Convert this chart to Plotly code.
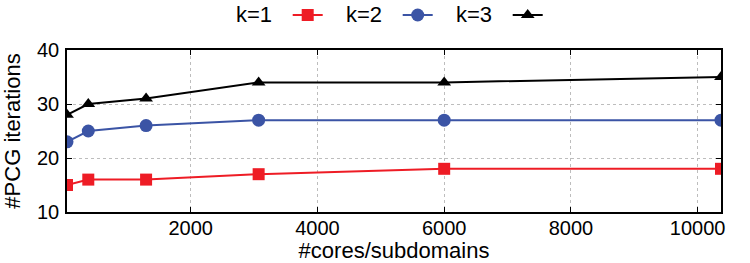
import plotly.graph_objects as go

cores = [48, 384, 1296, 3072, 6000, 10368]
k1 = [15, 16, 16, 17, 18, 18]
k2 = [23, 25, 26, 27, 27, 27]
k3 = [28, 30, 31, 34, 34, 35]
series_names = ["k=1", "k=2", "k=3"]
x_ticks = [2000, 4000, 6000, 8000, 10000]
y_ticks = [10, 20, 30, 40]

colors = ["#ee1c25", "#3b54a5", "#000000"]
symbols = ["square", "circle", "triangle-up"]
sizes = [12, 13, 12]

L, R, T, B = 67, 29, 50, 51
W, H = 750, 263
pw = W - L - R

FONT = "Liberation Sans, Arial, sans-serif"

fig = go.Figure()
for name, ys, c, s, sz in zip(series_names, [k1, k2, k3], colors, symbols, sizes):
    fig.add_trace(go.Scatter(
        x=cores, y=ys, name=name, mode="lines+markers",
        line=dict(color=c, width=2),
        marker=dict(color=c, symbol=s, size=sz, line=dict(width=0)),
    ))

entry_step = 110
leg_left_px = 287.7
leg_x = (leg_left_px - L) / pw
leg_y = (H - B - 15) / (H - T - B)

annotations = []
for i, name in enumerate(series_names):
    marker_px = leg_left_px + 20 + i * entry_step
    annotations.append(dict(
        x=(marker_px - 34 - L) / pw, y=leg_y, xref="paper", yref="paper",
        text=name, showarrow=False, xanchor="right", yanchor="middle",
        font=dict(size=22, color="black", family=FONT),
    ))

axis_common = dict(
    showline=True, linecolor="black", linewidth=1.5, mirror="ticks",
    ticks="inside", ticklen=5, tickwidth=1, tickcolor="black",
    showgrid=True, gridcolor="#bdbdbd", gridwidth=1, griddash="dot",
    zeroline=False, tickformat="d",
    tickfont=dict(size=20, color="black", family=FONT),
)

fig.update_layout(
    width=W, height=H,
    margin=dict(l=L, r=R, t=T, b=B, autoexpand=False),
    paper_bgcolor="white", plot_bgcolor="white",
    showlegend=True,
    legend=dict(
        orientation="h", x=leg_x, y=leg_y, xanchor="left", yanchor="middle",
        entrywidth=entry_step - 45, entrywidthmode="pixels",
        font=dict(size=1, color="rgba(0,0,0,0)"),
        bgcolor="rgba(0,0,0,0)", borderwidth=0, itemwidth=30,
    ),
    annotations=annotations,
    xaxis=dict(
        range=[48, 10368], tickvals=x_ticks, **axis_common,
        ticklabelstandoff=-3,
        title=dict(text="#cores/subdomains", standoff=6,
                   font=dict(size=22, color="black", family=FONT)),
        automargin=True,
    ),
    yaxis=dict(
        range=[10, 40], tickvals=y_ticks, **axis_common,
        ticklabelstandoff=2,
        title=dict(text="#PCG iterations", standoff=10,
                   font=dict(size=22, color="black", family=FONT)),
        automargin=True,
    ),
)

fig.write_html("out.html")
